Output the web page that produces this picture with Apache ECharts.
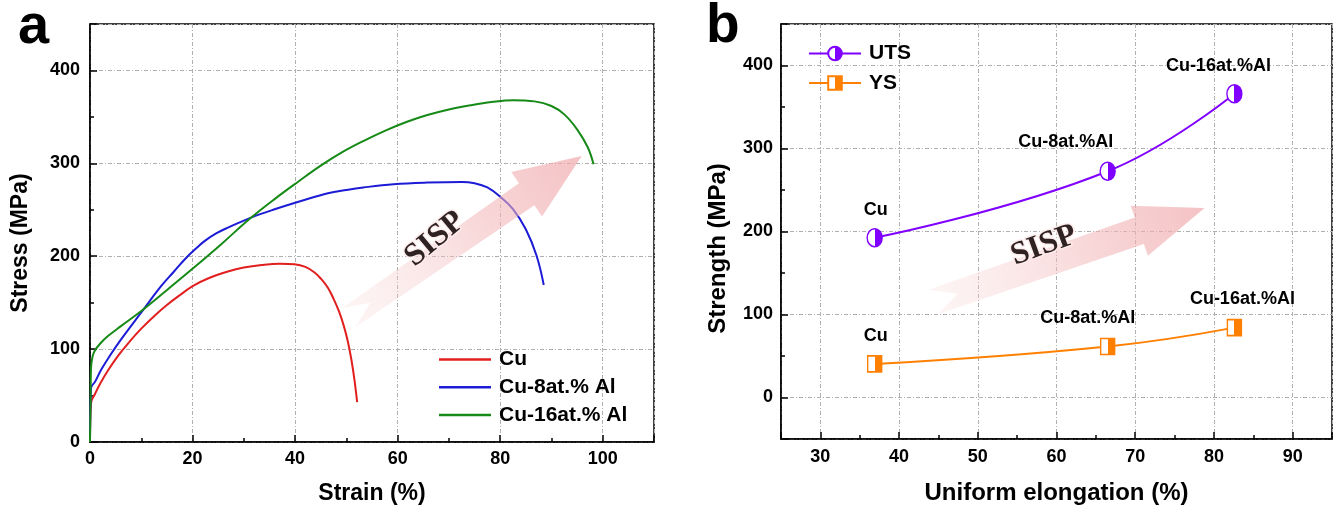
<!DOCTYPE html>
<html><head><meta charset="utf-8">
<script src="https://cdn.jsdelivr.net/npm/echarts@6/dist/echarts.min.js"></script>
<style>html,body{margin:0;padding:0;background:#fff}#c{width:1335px;height:510px}</style>
</head><body><div id="c"></div>
<script>
// ---------- Panel a: stress-strain curves [strain %, stress MPa] ----------
const curveCu = [[0,0],[0.2,42],[1,52],[2,63],[3.5,77],[5.5,93],[7.4,106],[10,122],[12.6,136],[15,147.5],[17.5,158],[20.1,168],[23,176],[26.9,183.5],[30,187.8],[33.5,190.6],[37,192],[39.9,191.4],[42,188.5],[43.8,182.5],[45,176],[46.4,166],[47.6,153],[48.6,140],[49.5,125],[50.3,108],[51,88],[51.6,66],[52.1,43]];
const curveCu8Al = [[0,0],[0.2,58],[1,65],[2.2,78],[4,94],[6.1,110.8],[10,139.5],[13.9,168],[16.3,183],[18.5,196.8],[20.5,207.5],[22.4,216.5],[24.6,224.5],[26.9,230.8],[31.4,241.6],[36,250.5],[41.8,260.5],[46.4,267.7],[50,271.3],[53.3,274],[59.2,277.5],[65.8,279.3],[72.5,280],[75,278.6],[77.5,274],[80,264],[82.5,250.7],[85,229],[87.1,200.5],[88.5,169]];
const curveCu16Al = [[0,0],[0.1,40],[0.2,80],[0.5,92],[0.9,98],[2,106],[3.5,114],[6.1,125],[10,141],[15.2,164.5],[20.1,187],[25.6,213],[31.1,240],[36,261.5],[40.8,281],[45,297.5],[49.2,312],[53.3,324],[57.5,335],[61.7,344.5],[65.8,352],[70,358],[74.2,362.5],[78.3,366],[82.5,368],[86.7,366.7],[90,361.7],[92.5,352.7],[95,336.6],[97.1,317],[98.2,299]];
const seriesNamesA = ['Cu','Cu-8at.% Al','Cu-16at.% Al'];

// ---------- Panel b: strength vs uniform elongation ----------
const elongation = [36.9, 66.5, 82.6];
const utsValues = [192.5, 272.6, 366];
const ysValues = [40.5, 61.5, 84.2];
const pointLabels = ['Cu','Cu-8at.%Al','Cu-16at.%Al'];
const seriesNamesB = ['UTS','YS'];

// annotation arrows (data coordinates: tail centre, tip, text centre)
const arrowA = {tail:[50.5,134], tip:[95.9,307.8], text:[67.3,218.3]};
const arrowB = {tail:[44.3,114.9], tip:[78.8,228.2], text:[58.4,183]};
const annotText = 'SISP';

const FONT = "'Liberation Sans', Arial, sans-serif";
const RED='#e21f1f', BLUE='#1c1cd6', GREEN='#168a16', PURPLE='#8000ff', ORANGE='#ff8000';

const chart = echarts.init(document.getElementById('c'));

function halfFill(col){
  return new echarts.graphic.LinearGradient(0,0,1,0,[
    {offset:0,color:'#ffffff'},{offset:0.5,color:'#ffffff'},
    {offset:0.5,color:col},{offset:1,color:col}]);
}
const splitStyle = {show:true, lineStyle:{color:'#b0b0b0', width:1, type:[4,2,1,2]}};
const axisLineStyle = {show:true, onZero:false, lineStyle:{color:'#000', width:1.5}};

const labelOffsetsUTS = [[1,-28],[-42,-29],[-16,-28]];
const labelOffsetsYS = [[1,-28],[-20,-28],[8,-29]];

function mkPts(xs, ys, offs){
  return xs.map((x,i)=>({value:[x,ys[i]], label:{show:true, formatter:pointLabels[i], offset:offs[i]}}));
}
const lineCurve = (name, data, col) => ({name, type:'line', xAxisIndex:0, yAxisIndex:0, data, symbol:'none',
  smooth:0.4, lineStyle:{color:col, width:2}, itemStyle:{color:col}});

const option = {
  animation:false,
  backgroundColor:'#fff',
  grid:[
    {left:90, right:681, top:24, bottom:67, show:true, borderColor:'#000', borderWidth:1.5, containLabel:false},
    {left:781, right:-13, top:24, bottom:67, show:true, borderColor:'#000', borderWidth:1.5, containLabel:false}
  ],
  xAxis:[
    {gridIndex:0, type:'value', min:0, max:110, interval:20,
     name:'Strain (%)', nameLocation:'middle', nameGap:40,
     nameTextStyle:{fontFamily:FONT, fontWeight:'bold', fontSize:23, color:'#000'},
     axisLine:axisLineStyle,
     axisTick:{show:true, inside:true, length:7, lineStyle:{color:'#000', width:1.5}},
     minorTick:{show:true, splitNumber:2, length:4, lineStyle:{color:'#000', width:1.5}},
     axisLabel:{fontFamily:FONT, fontWeight:'bold', fontSize:18, color:'#000', margin:8,
       formatter:v=> v>100 ? '' : String(v)},
     splitLine:splitStyle},
    {gridIndex:1, type:'value', min:25, max:95, splitNumber:7,
     name:'Uniform elongation (%)', nameLocation:'middle', nameGap:42,
     nameTextStyle:{fontFamily:FONT, fontWeight:'bold', fontSize:24, color:'#000'},
     axisLine:axisLineStyle,
     axisTick:{show:true, inside:true, length:7, lineStyle:{color:'#000', width:1.5}},
     minorTick:{show:true, splitNumber:2, length:4, lineStyle:{color:'#000', width:1.5}},
     axisLabel:{fontFamily:FONT, fontWeight:'bold', fontSize:18, color:'#000', margin:9,
       formatter:v=> (v%10===0 && v>=30 && v<=90) ? String(v) : ''},
     splitLine:splitStyle}
  ],
  yAxis:[
    {gridIndex:0, type:'value', min:0, max:450, interval:100,
     name:'Stress (MPa)', nameLocation:'middle', nameGap:58,
     nameTextStyle:{fontFamily:FONT, fontWeight:'bold', fontSize:23, color:'#000', padding:[0,20,0,0]},
     axisLine:axisLineStyle,
     axisTick:{show:true, inside:true, length:7, lineStyle:{color:'#000', width:1.5}},
     minorTick:{show:true, splitNumber:2, length:4, lineStyle:{color:'#000', width:1.5}},
     axisLabel:{fontFamily:FONT, fontWeight:'bold', fontSize:18, color:'#000', margin:10,
       formatter:v=> v>400 ? '' : String(v)},
     splitLine:splitStyle},
    {gridIndex:1, type:'value', min:-50, max:450, splitNumber:5,
     name:'Strength (MPa)', nameLocation:'middle', nameGap:51,
     nameTextStyle:{fontFamily:FONT, fontWeight:'bold', fontSize:24, color:'#000', padding:[0,34,0,0]},
     axisLine:axisLineStyle,
     axisTick:{show:true, inside:true, length:7, lineStyle:{color:'#000', width:1.5}},
     minorTick:{show:true, splitNumber:2, length:4, lineStyle:{color:'#000', width:1.5}},
     axisLabel:{fontFamily:FONT, fontWeight:'bold', fontSize:18, color:'#000', margin:8,
       formatter:v=> (v%100===0 && v>=0 && v<=400) ? String(v) : ''},
     splitLine:splitStyle}
  ],
  legend:[
    {data:seriesNamesA, orient:'vertical', left:434, top:344, icon:'rect', itemWidth:52, itemHeight:2.5, itemGap:6.7,
     textStyle:{fontFamily:FONT, fontWeight:'bold', fontSize:21, lineHeight:21, color:'#000', padding:[0,0,0,3]}},
    {data:seriesNamesB, orient:'vertical', left:803, top:38, itemWidth:52, itemHeight:17, itemGap:8.5,
     textStyle:{fontFamily:FONT, fontWeight:'bold', fontSize:21, lineHeight:21, color:'#000', padding:[0,0,0,3]}}
  ],
  series:[
    lineCurve(seriesNamesA[0], curveCu, RED),
    lineCurve(seriesNamesA[1], curveCu8Al, BLUE),
    lineCurve(seriesNamesA[2], curveCu16Al, GREEN),
    {name:seriesNamesB[0], type:'line', xAxisIndex:1, yAxisIndex:1, data:mkPts(elongation, utsValues, labelOffsetsUTS),
     smooth:0.45, symbol:'circle', symbolSize:[15,18],
     lineStyle:{color:PURPLE, width:2}, itemStyle:{color:halfFill(PURPLE), borderColor:PURPLE, borderWidth:1.5},
     label:{show:true, position:'inside', fontFamily:FONT, fontWeight:'bold', fontSize:18, color:'#000'}},
    {name:seriesNamesB[1], type:'line', xAxisIndex:1, yAxisIndex:1, data:mkPts(elongation, ysValues, labelOffsetsYS),
     smooth:0.45, symbol:'rect', symbolSize:[14,16],
     lineStyle:{color:ORANGE, width:2}, itemStyle:{color:halfFill(ORANGE), borderColor:ORANGE, borderWidth:1.5},
     label:{show:true, position:'inside', fontFamily:FONT, fontWeight:'bold', fontSize:18, color:'#000'}}
  ]
};
chart.setOption(option);

function arrowPoly(p0, p1, bodyTail, bodyHead, headW, headL, notch){
  const dx=p1[0]-p0[0], dy=p1[1]-p0[1], L=Math.hypot(dx,dy);
  const ux=dx/L, uy=dy/L, nx=-uy, ny=ux;
  const at=(s,t)=>[p0[0]+ux*s+nx*t, p0[1]+uy*s+ny*t];
  return [at(0,-bodyTail/2), at(L-headL,-bodyHead/2), at(L-headL,-headW/2), at(L,0),
          at(L-headL,headW/2), at(L-headL,bodyHead/2), at(0,bodyTail/2), at(notch,0)];
}
function buildArrow(gridIndex, a, dims, fontSize){
  const t = chart.convertToPixel({gridIndex}, a.tail);
  const h = chart.convertToPixel({gridIndex}, a.tip);
  const c = chart.convertToPixel({gridIndex}, a.text);
  const pts = arrowPoly(t, h, dims[0], dims[1], dims[2], dims[3], dims[4]);
  const grad = new echarts.graphic.LinearGradient(t[0], t[1], h[0], h[1], [
    {offset:0, color:'rgba(248,215,215,0.25)'},
    {offset:0.6, color:'rgba(242,180,182,0.55)'},
    {offset:1, color:'rgba(240,168,172,0.7)'}], true);
  return [
    {type:'polygon', z:50, shape:{points:pts}, style:{fill:grad}},
    {type:'text', z:51, x:c[0], y:c[1], rotation:dims[5],
     style:{text:annotText, fill:'#2e2222', font:'bold '+fontSize+'px "Liberation Serif", "Times New Roman", serif',
            align:'center', verticalAlign:'middle', stroke:'rgba(255,235,235,0.9)', lineWidth:3,
            shadowBlur:6, shadowColor:'rgba(220,120,120,0.6)'}}
  ];
}
const graphics = [].concat(
  buildArrow(0, arrowA, [23,27,54,67,26,0.70], 32),
  buildArrow(1, arrowB, [26,28,53,69,26,0.35], 32),
  [
    {type:'text', x:18, y:28, style:{text:'a', font:'bold 56px '+FONT, fill:'#000', verticalAlign:'middle'}},
    {type:'text', x:706, y:27, style:{text:'b', font:'bold 55px '+FONT, fill:'#000', verticalAlign:'middle'}}
  ]
);
chart.setOption({graphic:graphics});
</script>
</body></html>
